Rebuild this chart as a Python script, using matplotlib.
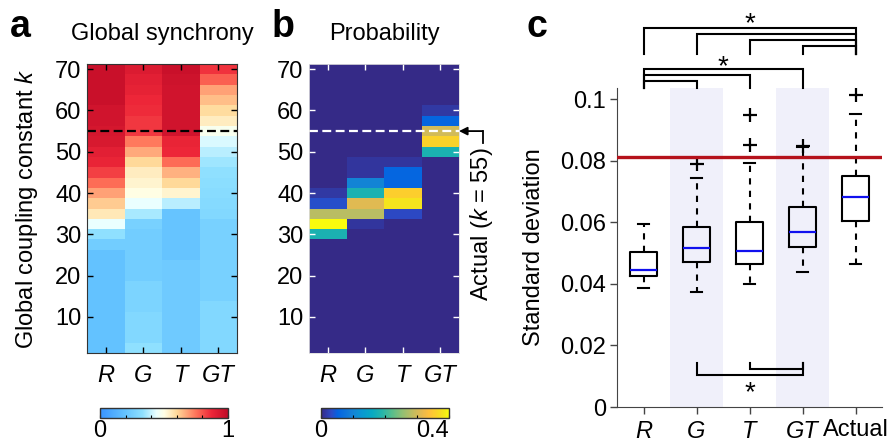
import numpy as np
import matplotlib
matplotlib.use('Agg')
import matplotlib.pyplot as plt
from matplotlib.colors import LinearSegmentedColormap

plt.rcParams['font.family'] = ['Liberation Sans', 'DejaVu Sans']
plt.rcParams['mathtext.fontset'] = 'custom'
plt.rcParams['mathtext.it'] = 'Liberation Sans:italic'
plt.rcParams['mathtext.rm'] = 'Liberation Sans'

models = ['R', 'G', 'T', 'GT']
k_centers = np.arange(2.5, 70.1, 2.5)
k_actual = 55

# global synchrony, listed from k = 70 down to k = 2.5
sync_R = [0.97, 0.97, 0.97, 0.97, 0.95, 0.95, 0.94, 0.93, 0.90, 0.88, 0.83, 0.76, 0.68, 0.62,
          0.56, 0.44, 0.33, 0.24, 0.19, 0.19, 0.19, 0.19, 0.19, 0.19, 0.19, 0.19, 0.19, 0.19]
sync_G = [0.92, 0.90, 0.89, 0.87, 0.86, 0.84, 0.84, 0.74, 0.67, 0.60, 0.55, 0.53, 0.50, 0.44,
          0.36, 0.26, 0.24, 0.24, 0.24, 0.24, 0.24, 0.27, 0.27, 0.27, 0.29, 0.29, 0.29, 0.33]
sync_T = [0.97, 0.96, 0.95, 0.95, 0.95, 0.95, 0.95, 0.88, 0.87, 0.76, 0.66, 0.60, 0.53, 0.38,
          0.20, 0.20, 0.20, 0.20, 0.20, 0.23, 0.23, 0.23, 0.23, 0.23, 0.23, 0.23, 0.23, 0.23]
sync_GT = [0.85, 0.78, 0.68, 0.64, 0.59, 0.55, 0.48, 0.42, 0.38, 0.35, 0.33, 0.32, 0.31, 0.30,
           0.29, 0.26, 0.26, 0.26, 0.26, 0.26, 0.26, 0.26, 0.26, 0.29, 0.29, 0.29, 0.29, 0.29]

# probability, listed from k = 70 down to k = 2.5
prob_R = [0, 0, 0, 0, 0, 0, 0, 0, 0, 0, 0, 0, 0.015, 0.035,
          0.28, 0.40, 0.18, 0, 0, 0, 0, 0, 0, 0, 0, 0, 0, 0]
prob_G = [0, 0, 0, 0, 0, 0, 0, 0, 0, 0.012, 0.012, 0.10, 0.18, 0.31,
          0.28, 0.012, 0, 0, 0, 0, 0, 0, 0, 0, 0, 0, 0, 0]
prob_T = [0, 0, 0, 0, 0, 0, 0, 0, 0, 0.012, 0.055, 0.055, 0.355, 0.38,
          0.03, 0, 0, 0, 0, 0, 0, 0, 0, 0, 0, 0, 0, 0]
prob_GT = [0, 0, 0, 0, 0.015, 0.055, 0.30, 0.36, 0.18, 0, 0, 0, 0, 0,
           0, 0, 0, 0, 0, 0, 0, 0, 0, 0, 0, 0, 0, 0]

# panel c box statistics
box_labels = ['R', 'G', 'T', 'GT', 'Actual']
box_q1 = [0.0425, 0.0471, 0.0465, 0.0520, 0.0603]
box_med = [0.0444, 0.0515, 0.0506, 0.0569, 0.0681]
box_q3 = [0.0502, 0.0583, 0.0601, 0.0649, 0.0751]
whisk_lo = [0.0388, 0.0373, 0.0400, 0.0439, 0.0464]
whisk_hi = [0.0594, 0.0744, 0.0791, 0.0845, 0.0953]
outliers = [[], [0.0788], [0.0852, 0.0947], [0.0848], [0.1013]]
actual_sd = 0.0812

sync = np.array([sync_R, sync_G, sync_T, sync_GT]).T[::-1]
prob = np.array([prob_R, prob_G, prob_T, prob_GT]).T[::-1]

sync_cmap = LinearSegmentedColormap.from_list('sync', [
    (0.0, (0.22, 0.58, 1.0)), (0.20, (0.40, 0.77, 1.0)), (0.33, (0.56, 0.88, 1.0)),
    (0.44, (0.92, 1.0, 1.0)), (0.50, (1.0, 1.0, 0.90)), (0.60, (1.0, 0.85, 0.6)),
    (0.75, (1.0, 0.45, 0.35)), (0.87, (0.93, 0.15, 0.22)), (1.0, (0.75, 0.04, 0.15))])
parula_pts = [(0.2081, 0.1663, 0.5292), (0.1707, 0.2919, 0.7792), (0.0117, 0.3875, 0.8820),
              (0.0779, 0.5040, 0.8384), (0.0343, 0.5966, 0.8199), (0.0267, 0.6642, 0.7607),
              (0.1453, 0.7098, 0.6646), (0.3482, 0.7424, 0.5473), (0.5709, 0.7485, 0.4494),
              (0.7525, 0.7384, 0.3768), (0.9139, 0.7258, 0.3063), (0.9938, 0.7455, 0.2403),
              (0.9880, 0.8066, 0.1794), (0.9589, 0.8949, 0.1132), (0.9763, 0.9831, 0.0538)]
parula_pos = [0, 5, 8, 15, 20, 25, 30, 35, 40, 45, 50, 53, 56, 60, 63]
parula = LinearSegmentedColormap.from_list(
    'parula', [(p / 63, c) for p, c in zip(parula_pos, parula_pts)])

W, H = 893, 443
FS = 17
fig = plt.figure(figsize=(W / 100, H / 100), dpi=100)


def frac(x0, y0, x1, y1):
    return [x0 / W, 1 - y1 / H, (x1 - x0) / W, (y1 - y0) / H]


x_edges = np.arange(0.5, 4.6, 1.0)
k_edges = np.arange(1.25, 71.3, 2.5)


def heat_axes(ax, tickcolor):
    ax.set_xlim(0.5, 4.5)
    ax.set_ylim(1.25, 71.25)
    ax.set_xticks(range(1, 5))
    ax.set_xticklabels(models, fontstyle='italic')
    ax.set_yticks(range(10, 71, 10))
    ax.tick_params(direction='in', length=4, width=1, colors=tickcolor,
                   top=True, right=True, labelsize=FS, labelcolor='black')
    ax.tick_params(axis='x', pad=8)
    ax.tick_params(axis='y', pad=4)


# panel a
axa = fig.add_axes(frac(87, 64, 237, 353))
ma = axa.pcolormesh(x_edges, k_edges, sync, cmap=sync_cmap, vmin=0, vmax=1)
axa.axhline(k_actual, color='black', lw=1.6, ls=(0, (4, 2)))
heat_axes(axa, 'black')
for s in axa.spines.values():
    s.set_color('#333333')
axa.set_title('Global synchrony', fontsize=FS, pad=17)
axa.set_ylabel('Global coupling constant $k$', fontsize=FS)
axa.yaxis.set_label_coords(-0.31, 0.5)

# panel b
axb = fig.add_axes(frac(309, 64, 459, 353))
mb = axb.pcolormesh(x_edges, k_edges, prob, cmap=parula, vmin=0, vmax=0.4)
axb.axhline(k_actual, color='white', lw=1.6, ls=(0, (4, 2)))
heat_axes(axb, 'white')
for s in axb.spines.values():
    s.set_color('#dddddd')
    s.set_linewidth(0.6)
axb.set_title('Probability', fontsize=FS, pad=17)
axb.annotate('', xy=(4.5, k_actual), xytext=(5.13, k_actual),
             arrowprops=dict(arrowstyle='-|>', color='black', lw=1.3,
                             mutation_scale=12, shrinkA=0, shrinkB=0),
             annotation_clip=False)
axb.plot([5.13, 5.13], [k_actual, 52.0], color='black', lw=1.3, clip_on=False)
axb.text(5.11, 32.4, 'Actual ($k$ = 55)', rotation=90, ha='center', va='center',
         fontsize=FS)

# colorbars
for m, pos, ticks, labels, minor in [
        (ma, frac(100, 408, 228, 418), [0, 1], ['0', '1'], [0.2, 0.4, 0.6, 0.8]),
        (mb, frac(321, 408, 449, 418), [0, 0.4], ['0', '0.4'], [0.1, 0.2, 0.3])]:
    cax = fig.add_axes(pos)
    cb = fig.colorbar(m, cax=cax, orientation='horizontal')
    cb.set_ticks(ticks)
    cb.set_ticklabels(labels)
    cax.set_xticks(minor, minor=True)
    cax.tick_params(which='both', direction='in', length=2.5, width=0.8,
                    labelsize=FS, pad=1.5)
    cb.outline.set_edgecolor('#333333')
    cb.outline.set_linewidth(1)
    if labels[-1] == '0.4':
        cax.get_xticklabels()[-1].set_horizontalalignment('right')

# panel c
axc = fig.add_axes(frac(617, 88, 882, 407))
positions = np.arange(1, 6)
for p in [2, 4]:
    axc.axvspan(p - 0.5, p + 0.5, color='#f0f0fa', zorder=0, lw=0)
stats = []
for i in range(5):
    stats.append(dict(med=box_med[i], q1=box_q1[i], q3=box_q3[i],
                      whislo=whisk_lo[i], whishi=whisk_hi[i], fliers=outliers[i]))
axc.bxp(stats, positions=positions, widths=0.5, capwidths=0.2,
        boxprops=dict(color='black', lw=1.5),
        medianprops=dict(color='#1010ee', lw=1.6),
        whiskerprops=dict(color='black', lw=1.5, ls=(0, (3, 3))),
        capprops=dict(color='black', lw=1.5),
        flierprops=dict(marker='+', markeredgecolor='black', markersize=10,
                        markeredgewidth=1.6))
axc.axhline(actual_sd, color='#b5121b', lw=2.4, zorder=5)
axc.set_xlim(0.5, 5.5)
axc.set_ylim(0, 0.1036)
axc.set_yticks([0, 0.02, 0.04, 0.06, 0.08, 0.1])
axc.set_yticklabels(['0', '0.02', '0.04', '0.06', '0.08', '0.1'])
axc.set_xticks(positions)
axc.set_xticklabels(box_labels)
for lbl in axc.get_xticklabels()[:4]:
    lbl.set_fontstyle('italic')
axc.tick_params(direction='out', length=5, width=1, colors='#444444',
                labelsize=FS, labelcolor='black')
axc.tick_params(axis='x', pad=4)
axc.tick_params(axis='y', pad=3)
axc.spines['top'].set_visible(False)
axc.spines['right'].set_visible(False)
for s in ['left', 'bottom']:
    axc.spines[s].set_color('#444444')
axc.set_ylabel('Standard deviation', fontsize=FS)
axc.yaxis.set_label_coords(-0.27, 0.5)

# significance brackets: (from, to, height, leg end)
brackets = [(1, 5, 0.1232, 0.1148), (2, 5, 0.1212, 0.1148), (3, 5, 0.1192, 0.1148),
            (4, 5, 0.1172, 0.1148), (1, 4, 0.1097, 0.1035), (1, 3, 0.1078, 0.1035),
            (1, 2, 0.1059, 0.1035), (2, 4, 0.0105, 0.0143), (3, 4, 0.0124, 0.0143)]
stars = [(3, 0.1243), (2.5, 0.1104), (3, 0.0046)]
for a, b, y, leg in brackets:
    axc.plot([a, a, b, b], [leg, y, y, leg], color='black', lw=1.5, clip_on=False,
             solid_joinstyle='miter')
for x, y in stars:
    axc.text(x, y, '*', ha='center', va='center', fontsize=20, clip_on=False)

# panel letters
for x, letter in [(10, 'a'), (272, 'b'), (526, 'c')]:
    fig.text(x / W, 1 - 37 / H, letter, fontsize=27, fontweight='bold',
             ha='left', va='baseline')

fig.savefig('out.png', dpi=100)
